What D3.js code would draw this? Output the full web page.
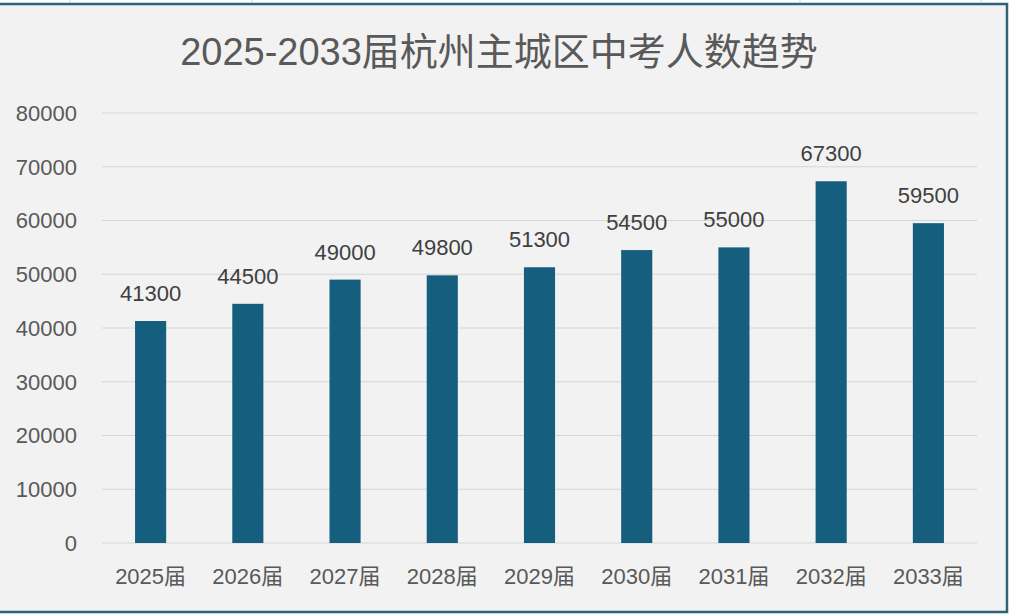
<!DOCTYPE html>
<html>
<head>
<meta charset="utf-8">
<script src="https://cdn.jsdelivr.net/npm/d3@7"></script>
<style>
  body { margin: 0; background: #fff; }
  svg { display: block; font-family: "Liberation Sans", "Noto Sans CJK SC", sans-serif; }
</style>
</head>
<body>
<div id="chart"></div>
<script>
const W = 1011
const H = 615
const TITLE = "2025-2033届杭州主城区中考人数趋势"
const categories = ["2025届", "2026届", "2027届", "2028届", "2029届", "2030届", "2031届", "2032届", "2033届"]
const values = [41300, 44500, 49000, 49800, 51300, 54500, 55000, 67300, 59500]
const yTicks = [0, 10000, 20000, 30000, 40000, 50000, 60000, 70000, 80000]
const cellLines = [70, 252, 800, 981] // faint spreadsheet cells above the chart

const PLOT = {left: 102, right: 977, top: 113, bottom: 543}

const svg = d3.select("#chart")
  .append("svg")
  .attr("width", W)
  .attr("height", H)

// chart frame
svg.append("rect")
  .attr("x", -2).attr("y", 4)
  .attr("width", 1009).attr("height", 608)
  .attr("fill", "#f2f2f2")
  .attr("stroke", "#2e6478")
  .attr("stroke-width", 2.5)

svg.selectAll("line.cell")
  .data(cellLines).enter()
  .append("line")
  .classed("cell", true)
  .attr("x1", d => d).attr("x2", d => d)
  .attr("y1", 0).attr("y2", 3)
  .attr("stroke", "#d0d0d0")

const x = d3.scaleBand()
  .domain(categories)
  .range([PLOT.left, PLOT.right])
  .paddingInner(0.68)
  .paddingOuter(0.34)

const y = d3.scaleLinear()
  .domain([0, 80000])
  .range([PLOT.bottom, PLOT.top])

// gridlines
svg.append("g")
  .selectAll("line")
  .data(yTicks).enter()
  .append("line")
  .attr("x1", PLOT.left).attr("x2", PLOT.right)
  .attr("y1", d => y(d)).attr("y2", d => y(d))
  .attr("stroke", "#d6d6d6")
  .attr("stroke-width", 1.2)

// y axis labels
svg.append("g")
  .selectAll("text")
  .data(yTicks).enter()
  .append("text")
  .attr("x", 77)
  .attr("y", d => y(d))
  .attr("dy", "0.36em")
  .attr("text-anchor", "end")
  .attr("font-size", 22)
  .attr("fill", "#595959")
  .text(d => d)

// bars
svg.append("g")
  .selectAll("rect")
  .data(values).enter()
  .append("rect")
  .attr("x", (_, i) => x(categories[i]))
  .attr("width", x.bandwidth())
  .attr("y", d => y(d))
  .attr("height", d => y(0) - y(d))
  .attr("fill", "#155e7e")

// data labels
svg.append("g")
  .selectAll("text")
  .data(values).enter()
  .append("text")
  .attr("x", (_, i) => x(categories[i]) + x.bandwidth() / 2)
  .attr("y", d => y(d) - 20)
  .attr("text-anchor", "middle")
  .attr("font-size", 22)
  .attr("fill", "#404040")
  .text(d => d)

// category labels
svg.append("g")
  .selectAll("text")
  .data(categories).enter()
  .append("text")
  .attr("x", d => x(d) + x.bandwidth() / 2)
  .attr("y", 584)
  .attr("text-anchor", "middle")
  .attr("font-size", 22)
  .attr("fill", "#595959")
  .text(d => d)

svg.append("text")
  .attr("x", 499)
  .attr("y", 65)
  .attr("text-anchor", "middle")
  .attr("font-size", 38)
  .attr("fill", "#595959")
  .text(TITLE)
</script>
</body>
</html>
